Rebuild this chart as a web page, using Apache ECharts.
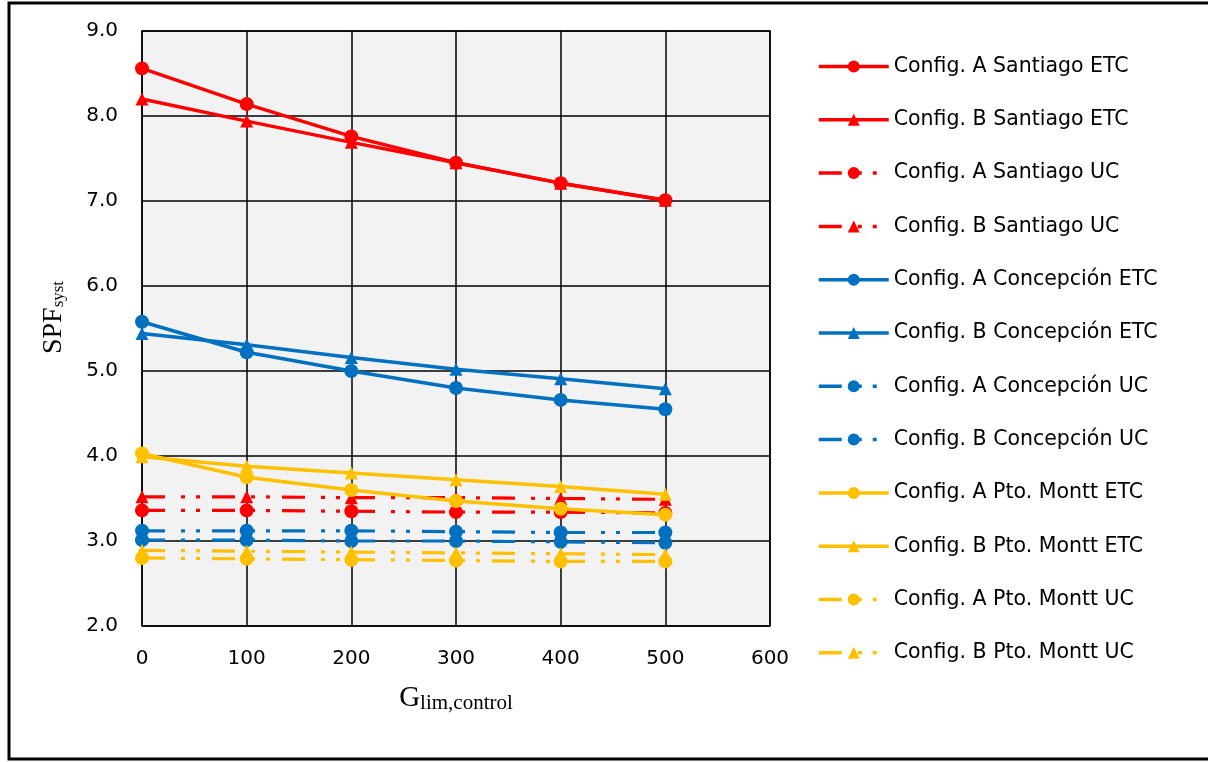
<!DOCTYPE html>
<html>
<head>
<meta charset="utf-8">
<script src="https://cdn.jsdelivr.net/npm/echarts@6/dist/echarts.min.js"></script>
<style>
  html, body { margin: 0; padding: 0; background: #fff; }
  #chart { width: 1208px; height: 762px; }
</style>
</head>
<body>
<div id="chart"></div>
<script>
// G_lim,control values (x axis)
const gLim = [0, 100, 200, 300, 400, 500];

// SPF_syst per configuration / city / collector
const aSantiagoETC   = [8.56, 8.14, 7.76, 7.45, 7.21, 7.01];
const bSantiagoETC   = [8.20, 7.94, 7.69, 7.45, 7.21, 7.01];
const aSantiagoUC    = [3.36, 3.36, 3.35, 3.34, 3.34, 3.33];
const bSantiagoUC    = [3.52, 3.52, 3.51, 3.51, 3.50, 3.49];
const aConcepcionETC = [5.58, 5.22, 5.00, 4.80, 4.66, 4.55];
const bConcepcionETC = [5.44, 5.31, 5.16, 5.02, 4.91, 4.79];
const aConcepcionUC  = [3.01, 3.01, 3.00, 3.00, 2.99, 2.98];
const bConcepcionUC  = [3.12, 3.12, 3.12, 3.11, 3.10, 3.10];
const aMonttETC      = [4.03, 3.75, 3.60, 3.47, 3.38, 3.31];
const bMonttETC      = [3.99, 3.88, 3.80, 3.72, 3.64, 3.55];
const aMonttUC       = [2.80, 2.79, 2.78, 2.77, 2.76, 2.76];
const bMonttUC       = [2.89, 2.88, 2.87, 2.86, 2.85, 2.84];

const seriesNames = [
  'Config. A Santiago ETC', 'Config. B Santiago ETC',
  'Config. A Santiago UC', 'Config. B Santiago UC',
  'Config. A Concepción ETC', 'Config. B Concepción ETC',
  'Config. A Concepción UC', 'Config. B Concepción UC',
  'Config. A Pto. Montt ETC', 'Config. B Pto. Montt ETC',
  'Config. A Pto. Montt UC', 'Config. B Pto. Montt UC'
];
const seriesValues = [
  aSantiagoETC, bSantiagoETC, aSantiagoUC, bSantiagoUC,
  aConcepcionETC, bConcepcionETC, aConcepcionUC, bConcepcionUC,
  aMonttETC, bMonttETC, aMonttUC, bMonttUC
];

const RED = '#FF0000', BLUE = '#0070C0', GOLD = '#FFC000';
const colors  = [RED, RED, RED, RED, BLUE, BLUE, BLUE, BLUE, GOLD, GOLD, GOLD, GOLD];
const symbols = ['circle', 'triangle', 'circle', 'triangle',
                 'circle', 'triangle', 'circle', 'circle',
                 'circle', 'triangle', 'circle', 'triangle'];
const dashed  = [false, false, true, true, false, false, true, true, false, false, true, true];

const LABEL_FONT = "'DejaVu Sans', sans-serif";
const SERIF = "'Liberation Serif', 'Times New Roman', serif";
// long dash, dot, dot
const dashDotDot = [23, 16, 4, 11, 4, 12];

const series = seriesNames.map((name, i) => ({
  name: name,
  type: 'line',
  data: gLim.map((g, k) => [g, seriesValues[i][k]]),
  symbol: symbols[i],
  symbolSize: symbols[i] === 'circle' ? 14 : 13,
  showSymbol: true,
  color: colors[i],
  itemStyle: { color: colors[i] },
  lineStyle: {
    color: colors[i],
    width: dashed[i] ? 3.2 : 3.5,
    type: dashed[i] ? dashDotDot : 'solid',
    cap: 'butt'
  },
  emphasis: { disabled: true },
  animation: false,
  z: dashed[i] ? 2 : 3
}));

const chart = echarts.init(document.getElementById('chart'), null, { renderer: 'canvas' });
chart.setOption({
  backgroundColor: '#ffffff',
  animation: false,
  graphic: [{
    type: 'rect',
    shape: { x: 9, y: 3, width: 1260, height: 756 },
    style: { fill: 'none', stroke: '#000', lineWidth: 3 },
    silent: true
  }],
  grid: {
    left: 142, right: 438, top: 31, bottom: 136,
    show: true,
    backgroundColor: '#f2f2f2',
    borderColor: '#000',
    borderWidth: 1.5
  },
  legend: {
    orient: 'vertical',
    left: 812,
    top: 51,
    itemWidth: 70,
    itemHeight: 15,
    itemGap: 32.3,
    lineStyle: { width: 3.5 },
    textStyle: { fontFamily: LABEL_FONT, fontSize: 20.5, color: '#000', lineHeight: 20 },
    data: seriesNames
  },
  xAxis: {
    type: 'value',
    min: 0, max: 600, interval: 100,
    axisLine: { show: false },
    axisTick: { show: false },
    splitLine: { show: true, lineStyle: { color: '#000', width: 1.5 } },
    axisLabel: { fontFamily: LABEL_FONT, fontSize: 20, color: '#000', margin: 23 },
    name: '{g|G}{s|lim,control}',
    nameLocation: 'middle',
    nameGap: 58,
    nameTextStyle: {
      rich: {
        g: { fontFamily: SERIF, fontSize: 29, color: '#000', lineHeight: 30,
             verticalAlign: 'top', padding: [0, 0, 7, 0] },
        s: { fontFamily: SERIF, fontSize: 21, color: '#000', lineHeight: 21,
             verticalAlign: 'bottom' }
      }
    }
  },
  yAxis: {
    type: 'value',
    min: 2, max: 9, interval: 1,
    axisLine: { show: false },
    axisTick: { show: false },
    splitLine: { show: true, lineStyle: { color: '#000', width: 1.5 } },
    axisLabel: {
      fontFamily: LABEL_FONT, fontSize: 20, color: '#000', margin: 24,
      formatter: v => v.toFixed(1)
    },
    name: '{a|SPF}{b|syst}',
    nameLocation: 'middle',
    nameGap: 70,
    nameTextStyle: {
      padding: [0, 0, 0, 22],
      rich: {
        a: { fontFamily: SERIF, fontSize: 28, color: '#000', lineHeight: 28,
             verticalAlign: 'top', padding: [0, 0, 8, 0] },
        b: { fontFamily: SERIF, fontSize: 17, color: '#000', lineHeight: 17,
             verticalAlign: 'bottom' }
      }
    }
  },
  series: series
});
</script>
</body>
</html>
